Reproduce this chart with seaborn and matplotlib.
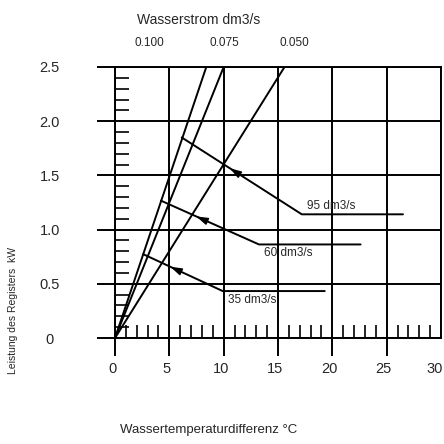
import numpy as np
import pandas as pd
import matplotlib
matplotlib.use("Agg")
import matplotlib.pyplot as plt
import matplotlib.transforms as mtransforms
from matplotlib.ticker import MultipleLocator
import seaborn as sns

# ---- data ----
flows = ["0.100", "0.075", "0.050"]            # Wasserstrom dm3/s
flow_dt_at_top = [8.4, 10.0, 15.6]             # ΔT where each flow line reaches 2.5 kW
p_top = 2.5

readings = ["95 dm3/s", "60 dm3/s", "35 dm3/s"]
read_start_dt = [6.14, 4.23, 2.60]
read_start_p = [1.850, 1.267, 0.773]
read_end_dt = [17.19, 13.25, 9.91]
read_end_p = [1.141, 0.863, 0.433]
read_line_end_dt = [26.5, 22.6, 19.3]

x_ticks = [0, 5, 10, 15, 20, 25, 30]
y_ticks = [0, 0.5, 1.0, 1.5, 2.0, 2.5]
y_tick_labels = ["0", "0.5", "1.0", "1.5", "2.0", "2.5"]

# ---- style / layout ----
flow_label_x = [3.2, 10.1, 16.5]
arrow_t = [0.40, 0.36, 0.34]
label_above = [True, False, False]

sns.set_style("white")
plt.rcParams['font.family'] = ['Liberation Sans', 'DejaVu Sans']

fig = plt.figure(figsize=(4.44, 4.44), dpi=100)
ax = fig.add_axes([115/444, 106/444, 326/444, 271/444])

LW = 1.4

# flow lines through the origin
rows = []
for f, xe in zip(flows, flow_dt_at_top):
    rows.append((f, 0.0, 0.0))
    rows.append((f, xe, p_top))
df_flow = pd.DataFrame(rows, columns=["flow", "dt", "p"])
sns.lineplot(data=df_flow, x="dt", y="p", units="flow", estimator=None,
             color="black", lw=LW, sort=False, ax=ax, zorder=3)

# reading example lines
rows = []
for i, r in enumerate(readings):
    rows.append((r, 0, read_start_dt[i], read_start_p[i]))
    rows.append((r, 1, read_end_dt[i], read_end_p[i]))
    rows.append((r, 2, read_line_end_dt[i], read_end_p[i]))
df_read = pd.DataFrame(rows, columns=["reading", "order", "dt", "p"])
sns.lineplot(data=df_read, x="dt", y="p", units="reading", estimator=None,
             color="black", lw=LW, sort=False, ax=ax, zorder=3)

for i, r in enumerate(readings):
    x0, y0 = read_start_dt[i], read_start_p[i]
    x1, y1 = read_end_dt[i], read_end_p[i]
    t = arrow_t[i]
    tip = (x0 + (x1 - x0) * t, y0 + (y1 - y0) * t)
    base = (x0 + (x1 - x0) * (t + 0.09), y0 + (y1 - y0) * (t + 0.09))
    ax.annotate("", xy=tip, xytext=base,
                arrowprops=dict(arrowstyle="-|>,head_length=0.7,head_width=0.22",
                                color="black", lw=1.0, shrinkA=0, shrinkB=0),
                zorder=4)
    dy = 0.08 if label_above[i] else -0.08
    ax.text(x1 + 0.45, y1 + dy, r, ha="left", va="center", fontsize=8.5, zorder=5)

ax.set_xlim(0, 30)
ax.set_ylim(0, 2.5)
ax.set_xticks(x_ticks)
ax.set_yticks(y_ticks)
ax.set_yticklabels(y_tick_labels, ha="center")
ax.xaxis.set_minor_locator(MultipleLocator(1))
ax.yaxis.set_minor_locator(MultipleLocator(0.1))
ax.set_xlabel("")
ax.set_ylabel("")

ax.tick_params(axis="x", which="major", direction="out", length=13,
               width=LW, color="black", labelsize=10.5, pad=4,
               bottom=True, top=False)
ax.tick_params(axis="y", which="major", direction="out", length=13,
               width=LW, color="black", labelsize=10.5, pad=34,
               left=True, right=False)
ax.tick_params(axis="x", which="minor", direction="in", length=9.4,
               width=1.2, color="black", bottom=True, top=False)
ax.tick_params(axis="y", which="minor", direction="in", length=10,
               width=1.2, color="black", left=True, right=False)
ax.xaxis.get_major_ticks()[-1].tick1line.set_visible(False)

# x tick labels sit a little left of their ticks; keep "30" inside the figure
xlabels = ax.get_xticklabels()
for lab in xlabels[:-1]:
    lab.set_transform(lab.get_transform() +
                      mtransforms.ScaledTranslation(-3/100, 0, fig.dpi_scale_trans))
xlabels[-1].set_horizontalalignment("right")
xlabels[-1].set_transform(xlabels[-1].get_transform() +
                          mtransforms.ScaledTranslation(2/100, 0, fig.dpi_scale_trans))

ax.grid(True, which="major", color="black", lw=LW)
for s in ax.spines.values():
    s.set_color("black")
    s.set_linewidth(LW)
    s.set_visible(True)

tr = mtransforms.blended_transform_factory(ax.transData, ax.transAxes)
for f, xl in zip(flows, flow_label_x):
    ax.text(xl, 1.09, f, transform=tr, ha="center", va="center", fontsize=8.5)

fig.text(199/444, 1 - 20/444, "Wasserstrom dm3/s", ha="center", va="center", fontsize=10)
fig.text(209/444, 1 - 430/444, "Wassertemperaturdifferenz °C", ha="center", va="center", fontsize=9.5)
fig.text(13/444, 1 - 311/444, "Leistung des Registers  kW", rotation=90,
         ha="center", va="center", fontsize=7.5)

fig.savefig("out.png", dpi=100)
